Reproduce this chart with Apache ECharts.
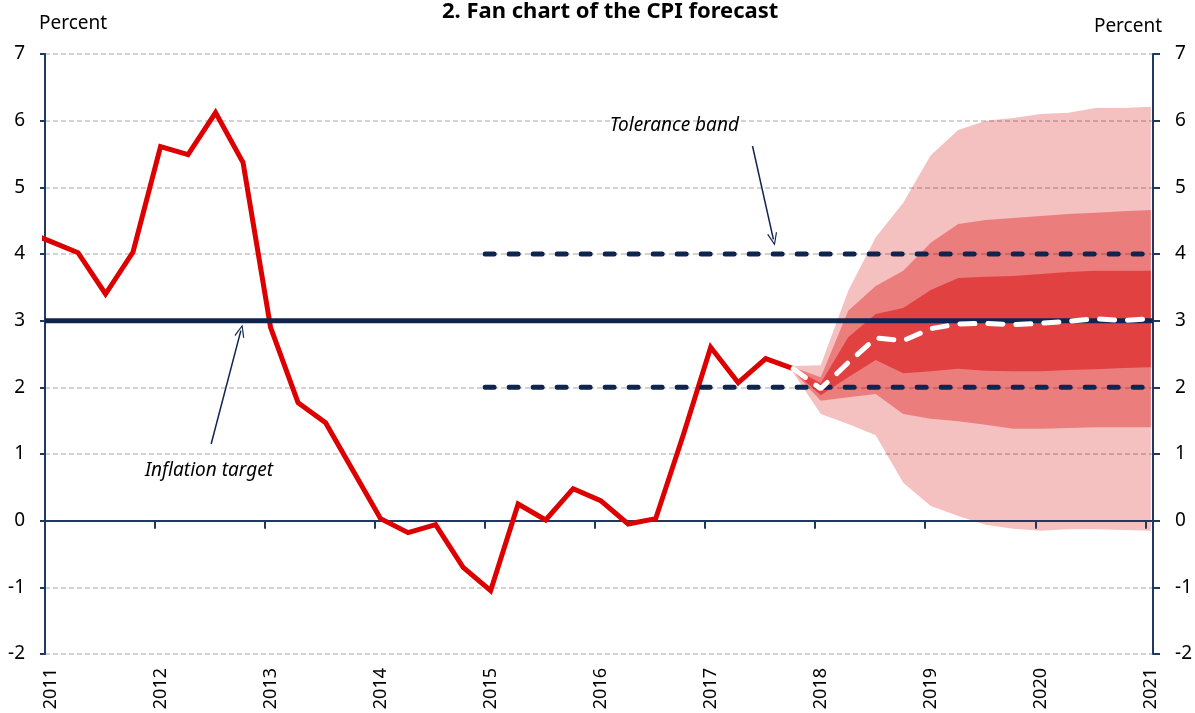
<!DOCTYPE html>
<html>
<head>
<meta charset="utf-8">
<script src="https://cdn.jsdelivr.net/npm/echarts@6/dist/echarts.min.js"></script>
<style>
  html, body { margin: 0; padding: 0; background: #fff; }
  #main { width: 1195px; height: 713px; }
</style>
</head>
<body>
<div id="main"></div>
<script>
// CPI, percent, one value per quarter starting 2010 Q4
var cpiStart = 2010.8;
var cpi = [4.35, 4.19, 4.02, 3.40, 4.03, 5.61, 5.49, 6.12, 5.37, 2.90, 1.77, 1.47, 0.75,
  0.03, -0.18, -0.06, -0.70, -1.05, 0.25, 0.01, 0.48, 0.30, -0.05, 0.03, 1.28, 2.60,
  2.07, 2.43, 2.28];

// forecast and fan edges, quarterly from 2017 Q4 to 2021 Q1
var fcStart = 2017.8;
var forecast  = [2.28, 1.98, 2.37, 2.74, 2.70, 2.88, 2.95, 2.96, 2.94, 2.96, 2.99, 3.03, 3.00, 3.03];
var lightLow  = [2.22, 1.60, 1.45, 1.28, 0.57, 0.22, 0.07, -0.06, -0.12, -0.15, -0.13, -0.13, -0.14, -0.15];
var midLow    = [2.24, 1.80, 1.85, 1.90, 1.60, 1.53, 1.49, 1.44, 1.38, 1.38, 1.39, 1.40, 1.40, 1.40];
var darkLow   = [2.25, 1.88, 2.15, 2.41, 2.21, 2.24, 2.28, 2.25, 2.24, 2.24, 2.26, 2.27, 2.29, 2.30];
var darkHigh  = [2.29, 2.06, 2.75, 3.10, 3.19, 3.46, 3.64, 3.66, 3.67, 3.70, 3.73, 3.75, 3.75, 3.75];
var midHigh   = [2.30, 2.15, 3.15, 3.52, 3.75, 4.17, 4.45, 4.51, 4.54, 4.57, 4.60, 4.62, 4.64, 4.66];
var lightHigh = [2.32, 2.33, 3.45, 4.25, 4.77, 5.48, 5.86, 6.00, 6.04, 6.10, 6.12, 6.19, 6.19, 6.21];

// inflation target and tolerance band
var target = 3;
var bandLow = 2;
var bandHigh = 4;
var bandFrom = 2015;
var bandTo = 2021.05;

// annotations: text anchor and arrow (from, to) in data units
var notes = [
  { text: 'Tolerance band', at: [2016.72, 5.92], from: [2017.43, 5.62], to: [2017.62, 4.22] },
  { text: 'Inflation target', at: [2012.49, 0.75], from: [2012.51, 1.15], to: [2012.78, 2.85] }
];

var xMin = 2011, xMax = 2021.07;
var font = '"Noto Sans", sans-serif';
var navy = '#0f2550';
var axisNavy = '#1f3864';

// fan layers, outermost first so the inner ones paint over
var fanLayers = [
  { lo: lightLow, hi: lightHigh, color: '#f4c0c0' },
  { lo: midLow, hi: midHigh, color: '#ec7d7d' },
  { lo: darkLow, hi: darkHigh, color: '#e24141' }
];

function quarterly(start, arr) {
  return arr.map(function (v, i) { return [start + 0.25 * i, v]; });
}

var arrowHead = 'path://M0,10 L5,0 L10,10 L9,10.6 L5,2.4 L1,10.6 Z';

var myChart = echarts.init(document.getElementById('main'));
myChart.setOption({
  animation: false,
  title: {
    text: '2. Fan chart of the CPI forecast',
    left: 437, top: -4,
    textStyle: { fontFamily: font, fontSize: 22, fontWeight: 'bold', color: '#000' }
  },
  graphic: [
    { id: 'unitLeft', type: 'text', left: 39, top: 14, style: { text: 'Percent', font: '19px "Noto Sans"', fill: '#000' } },
    { id: 'unitRight', type: 'text', right: 33, top: 17, style: { text: 'Percent', font: '19px "Noto Sans"', fill: '#000' } }
  ],
  grid: { left: 45, right: 37, top: 54, bottom: 59 },
  xAxis: [
    {
      type: 'value', min: xMin, max: xMax, interval: 1, position: 'bottom', z: 2,
      axisLine: { onZero: true, lineStyle: { color: axisNavy, width: 2 } },
      axisTick: { show: true, length: 8, lineStyle: { color: axisNavy, width: 2 } },
      axisLabel: { show: false },
      splitLine: { show: false }
    },
    {
      type: 'value', min: xMin, max: xMax, interval: 1, position: 'bottom',
      axisLine: { show: false, onZero: false },
      axisTick: { show: false },
      axisLabel: {
        rotate: 90, margin: 14, fontSize: 18, fontFamily: font, color: '#000',
        verticalAlign: 'top', lineHeight: 12,
        formatter: function (v) { return Number.isInteger(v) ? String(v) : ''; }
      },
      splitLine: { show: false }
    }
  ],
  yAxis: [
    {
      type: 'value', min: -2, max: 7, interval: 1, position: 'left', z: 2,
      axisLine: { show: true, onZero: false, lineStyle: { color: axisNavy, width: 2 } },
      axisTick: { show: true, length: 5, lineStyle: { color: axisNavy, width: 2 } },
      axisLabel: { margin: 20, fontSize: 19, fontFamily: font, color: '#000' },
      splitLine: { show: true, lineStyle: { color: 'rgba(0,0,0,0.23)', width: 1.5, type: [5, 3] } }
    },
    {
      type: 'value', min: -2, max: 7, interval: 1, position: 'right', z: 2,
      axisLine: { show: true, onZero: false, lineStyle: { color: axisNavy, width: 2 } },
      axisTick: { show: true, length: 7, lineStyle: { color: axisNavy, width: 2 } },
      axisLabel: { margin: 22, fontSize: 19, fontFamily: font, color: '#000' },
      splitLine: { show: false }
    }
  ],
  series: [
    {
      name: 'Fan', type: 'custom', silent: true, z: 1,
      encode: { x: 0, y: 1 },
      data: fanLayers.map(function (l, k) { return [fcStart, target, k]; }),
      renderItem: function (params, api) {
        var layer = fanLayers[api.value(2)];
        var pts = [];
        for (var i = 0; i < layer.hi.length; i++) {
          pts.push(api.coord([fcStart + 0.25 * i, layer.hi[i]]));
        }
        for (var j = layer.lo.length - 1; j >= 0; j--) {
          pts.push(api.coord([fcStart + 0.25 * j, layer.lo[j]]));
        }
        return { type: 'polygon', shape: { points: pts }, style: { fill: layer.color } };
      }
    },
    {
      name: 'CPI', type: 'line', data: quarterly(cpiStart, cpi), symbol: 'none',
      lineStyle: { color: '#dd0000', width: 5, join: 'miter' }, z: 3
    },
    {
      name: 'Inflation target', type: 'line', data: [[xMin, target], [xMax, target]], symbol: 'none',
      lineStyle: { color: navy, width: 5 }, z: 4,
      markLine: {
        silent: true, symbol: ['none', arrowHead], symbolSize: [10, 13],
        label: { show: false },
        lineStyle: { color: navy, width: 1.5, type: 'solid' },
        data: notes.map(function (n) { return [{ coord: n.from }, { coord: n.to }]; })
      }
    },
    {
      name: 'Tolerance high', type: 'line', data: [[bandFrom, bandHigh], [bandTo, bandHigh]], symbol: 'none',
      lineStyle: { color: navy, width: 5, type: [9, 15], cap: 'round' }, z: 4
    },
    {
      name: 'Tolerance low', type: 'line', data: [[bandFrom, bandLow], [bandTo, bandLow]], symbol: 'none',
      lineStyle: { color: navy, width: 5, type: [9, 15], cap: 'round' }, z: 4
    },
    {
      name: 'Forecast', type: 'line', data: quarterly(fcStart, forecast), symbol: 'none',
      lineStyle: { color: '#ffffff', width: 5, type: [15, 13], cap: 'round' }, z: 5
    }
  ]
});

// annotation texts, placed through the grid's own coordinate conversion
myChart.setOption({
  graphic: notes.map(function (n, k) {
    var p = myChart.convertToPixel({ gridIndex: 0 }, n.at);
    return {
      id: 'note' + k, type: 'text', x: p[0], y: p[1], z: 10,
      style: {
        text: n.text, fill: '#000', align: 'center', verticalAlign: 'middle',
        font: 'italic 19px "Noto Sans"'
      }
    };
  })
});
</script>
</body>
</html>
